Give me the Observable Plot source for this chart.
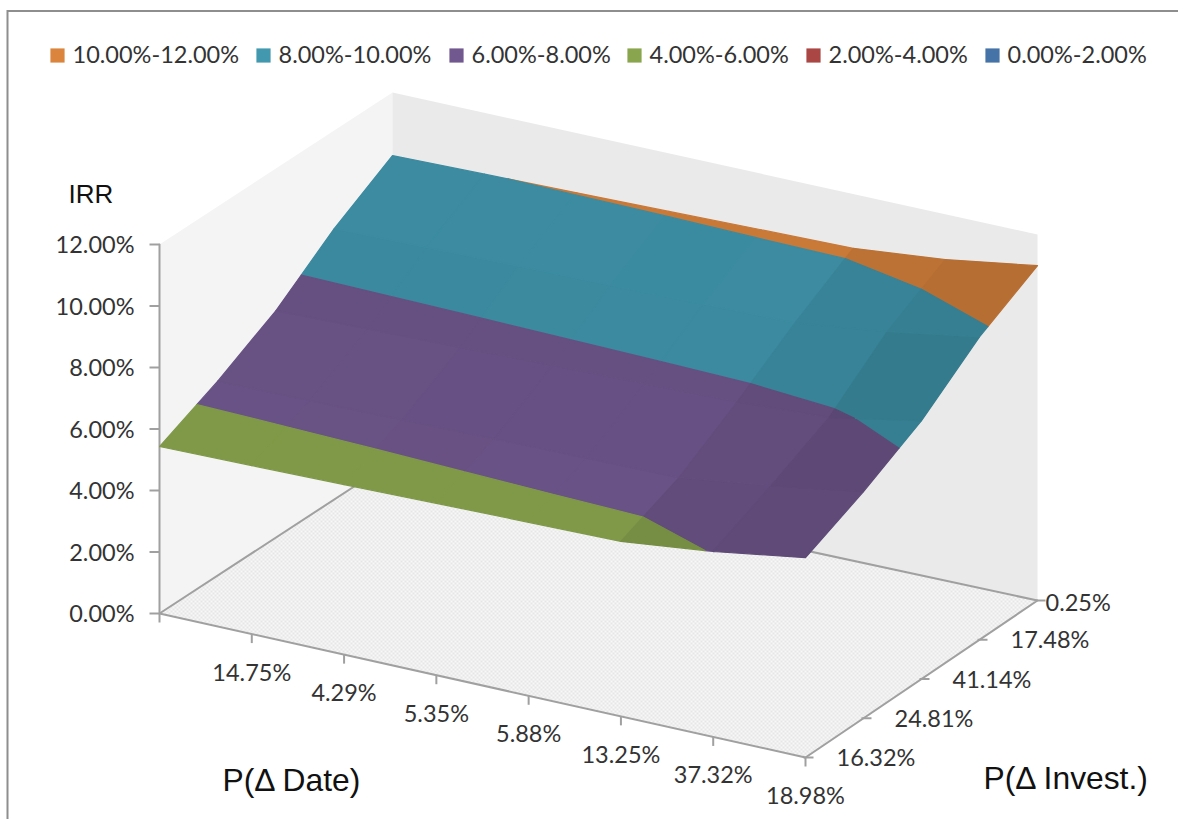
<!DOCTYPE html>
<html>
<head>
<meta charset="utf-8">
<style>
  html, body { margin: 0; padding: 0; background: #fff; }
  svg { display: block; }
</style>
<script src="https://cdn.jsdelivr.net/npm/d3@7"></script>
<script src="https://cdn.jsdelivr.net/npm/@observablehq/plot@0.6"></script>
</head>
<body>
<div id="chart"></div>
<script>
// IRR by probability of date change (columns) and investment change (rows)
const dateLabels = ["", "14.75%", "4.29%", "5.35%", "5.88%", "13.25%", "37.32%", "18.98%"];
const investLabels = ["16.32%", "24.81%", "41.14%", "17.48%", "0.25%"];
const irrTicks = [0, 2, 4, 6, 8, 10, 12];

const irrAt16 = [5.43, 5.48, 5.53, 5.59, 5.64, 5.69, 6.03, 6.50];
const irrAt25 = [6.32, 6.35, 6.39, 6.43, 6.47, 6.50, 6.90, 7.37];
const irrAt41 = [7.38, 7.44, 7.50, 7.57, 7.63, 7.70, 7.85, 8.40];
const irrAt17 = [8.81, 8.85, 8.89, 8.92, 8.96, 9.00, 9.37, 9.85];
const irrAt00 = [9.95, 9.99, 10.03, 10.07, 10.12, 10.16, 10.44, 10.89];
const irrRows = [irrAt16, irrAt25, irrAt41, irrAt17, irrAt00];

const bandNames = ["10.00%-12.00%", "8.00%-10.00%", "6.00%-8.00%", "4.00%-6.00%", "2.00%-4.00%", "0.00%-2.00%"];
const bandLows = [10, 8, 6, 4, 2, 0];
const bandColors = ["#db843d", "#4198af", "#71588f", "#89a54e", "#aa4643", "#4572a7"];

// Legend layout
const swatchLefts = [50, 256, 449, 627, 806, 985];

// Screen frame of the box: floor corners and the pixels per percentage point
const corner = {left: [159, 613], front: [805, 757], right: [1037, 600], back: [392, 461]};
const pxPerPoint = 30.75;
const nDate = dateLabels.length - 1;
const nInvest = investLabels.length - 1;

// Bilinear position on the floor, raised by the IRR value
function project(j, i, z = 0) {
  const u = j / nDate, v = i / nInvest;
  const at = (k) =>
    (1 - u) * (1 - v) * corner.left[k] + u * (1 - v) * corner.front[k] +
    u * v * corner.right[k] + (1 - u) * v * corner.back[k];
  return [at(0), at(1) - z * pxPerPoint];
}
const px = (d) => project(d.j, d.i, d.z)[0];
const py = (d) => project(d.j, d.i, d.z)[1];

// Clip a polygon to lo <= z <= hi, one bound at a time
function clipBand(points, lo, hi) {
  const clip = (pts, inside, limit) => {
    const out = [];
    pts.forEach((a, n) => {
      const b = pts[(n + 1) % pts.length];
      if (inside(a)) out.push(a);
      if (inside(a) !== inside(b)) {
        const t = (limit - a.z) / (b.z - a.z);
        out.push({j: a.j + t * (b.j - a.j), i: a.i + t * (b.i - a.i), z: limit});
      }
    });
    return out;
  };
  let r = clip(points, (p) => p.z >= lo, lo);
  if (r.length) r = clip(r, (p) => p.z <= hi, hi);
  return r;
}

// Surface pieces: every grid cell split along the colour bands, shaded by its tilt
const surface = [];
let polyId = 0;
for (let i = 0; i < nInvest; ++i) {
  for (let j = 0; j < nDate; ++j) {
    const g = (jj, ii) => ({j: jj, i: ii, z: irrRows[ii][jj]});
    const a = g(j, i), b = g(j + 1, i), c = g(j + 1, i + 1), d = g(j, i + 1);
    const slopeI = (d.z + c.z - a.z - b.z) / 2;
    const slopeJ = (b.z + c.z - a.z - d.z) / 2;
    const shade = 0.97 - 0.04 * slopeI - 0.2 * slopeJ;
    bandLows.forEach((lo, n) => {
      const piece = clipBand([a, b, c, d], lo, lo + 2);
      if (piece.length < 3) return;
      const rgb = d3.rgb(bandColors[n]);
      const colour = d3.rgb(rgb.r * shade, rgb.g * shade, rgb.b * shade).formatHex();
      const id = polyId++;
      for (const p of [...piece, piece[0]]) surface.push({...p, id, colour});
    });
  }
}

// Box faces; the far right corner of the back wall sits slightly lower in the view
const leftWall = [{j: 0, i: 0, z: 0}, {j: 0, i: nInvest, z: 0}, {j: 0, i: nInvest, z: 12}, {j: 0, i: 0, z: 12}];
const backWall = [{j: 0, i: nInvest, z: 0}, {j: nDate, i: nInvest, z: 0}, {j: nDate, i: nInvest, z: 11.9}, {j: 0, i: nInvest, z: 12}];
const floor = [{j: 0, i: 0, z: 0}, {j: nDate, i: 0, z: 0}, {j: nDate, i: nInvest, z: 0}, {j: 0, i: nInvest, z: 0}];

const dateTicks = dateLabels.map((label, j) => ({j, i: 0, z: 0, label}));
const investTicks = investLabels.map((label, i) => ({j: nDate, i, z: 0, label}));
const valueTicks = irrTicks.map((z) => ({j: 0, i: 0, z, label: z.toFixed(2) + "%"}));
const legend = bandNames.map((name, n) => ({name, colour: bandColors[n], left: swatchLefts[n]}));

const labelFont = {fontFamily: "Lato", fontSize: 23.5, fill: "#333333"};
const axisStroke = {stroke: "#a0a0a0", strokeWidth: 2};
const titleFont = {fontFamily: "Liberation Sans", fill: "#111"};

// Fine stipple used on the floor of the box
const stipple = () => {
  const defs = d3.create("svg:defs");
  const pattern = defs.append("pattern").attr("id", "floor-stipple")
    .attr("width", 4).attr("height", 4).attr("patternUnits", "userSpaceOnUse");
  pattern.append("rect").attr("width", 4).attr("height", 4).attr("fill", "#f8f8f8");
  pattern.append("rect").attr("width", 2).attr("height", 2).attr("fill", "#e6e6e6");
  pattern.append("rect").attr("x", 2).attr("y", 2).attr("width", 2).attr("height", 2).attr("fill", "#e6e6e6");
  return defs.node();
};

const chart = Plot.plot({
  width: 1178,
  height: 819,
  margin: 0,
  x: {domain: [0, 1178], range: [0, 1178], axis: null},
  y: {domain: [0, 819], range: [0, 819], axis: null},
  marks: [
    stipple,
    // Outer frame
    Plot.ruleX([7], {y1: 10, y2: 819, stroke: "#8e8e8e", strokeWidth: 2}),
    Plot.ruleY([10.5], {x1: 7, x2: 1178, stroke: "#8e8e8e", strokeWidth: 2}),

    // Walls and floor
    Plot.line(leftWall, {x: px, y: py, fill: "#f4f4f4", stroke: "none"}),
    Plot.line(backWall, {x: px, y: py, fill: "#eaeaea", stroke: "none"}),
    Plot.line(floor, {x: px, y: py, fill: "url(#floor-stipple)", stroke: "none"}),

    // Floor edges and axes
    Plot.line([floor[3], floor[0], floor[1], floor[2], floor[3]], {x: px, y: py, ...axisStroke}),
    Plot.line([{j: 0, i: 0, z: 0}, {j: 0, i: 0, z: 12}], {x: px, y: py, ...axisStroke}),
    Plot.link(valueTicks, {x1: (d) => px(d) - 10, x2: px, y1: py, y2: py, ...axisStroke}),
    Plot.link(dateTicks, {x1: px, x2: px, y1: py, y2: (d) => py(d) + 9, ...axisStroke}),
    Plot.link(investTicks, {x1: (d) => px(d) - 2, x2: (d) => px(d) + 8, y1: py, y2: py, ...axisStroke}),

    // The IRR surface
    Plot.line(surface, {x: px, y: py, z: "id", fill: "colour", stroke: "colour", strokeWidth: 1.2}),

    // Tick labels
    Plot.text(valueTicks, {x: (d) => px(d) - 25, y: (d) => py(d) + 1, text: "label", textAnchor: "end", ...labelFont}),
    Plot.text(dateTicks, {x: px, y: (d) => py(d) + 39, text: "label", textAnchor: "middle", ...labelFont}),
    Plot.text(investTicks, {
      x: (d) => px(d) + (d.i === nInvest ? 8 : 31),
      y: (d) => py(d) + (d.i === nInvest ? 3 : 1),
      text: "label", textAnchor: "start", ...labelFont
    }),

    // Axis titles
    Plot.text(["IRR"], {x: 68, y: 194, text: (d) => d, textAnchor: "start", fontSize: 26, ...titleFont}),
    Plot.text(["P(\u0394 Date)"], {x: 222, y: 780, text: (d) => d, textAnchor: "start", fontSize: 31.8, ...titleFont}),
    Plot.text(["P(\u0394 Invest.)"], {x: 983, y: 778, text: (d) => d, textAnchor: "start", fontSize: 31.8, ...titleFont}),

    // Legend
    Plot.dot(legend, {x: (d) => d.left + 7, y: 55, symbol: "square", r: 8, fill: "colour", stroke: "none"}),
    Plot.text(legend, {x: (d) => d.left + 22, y: 55, text: "name", textAnchor: "start", ...labelFont})
  ]
});
document.getElementById("chart").append(chart);
</script>
</body>
</html>
